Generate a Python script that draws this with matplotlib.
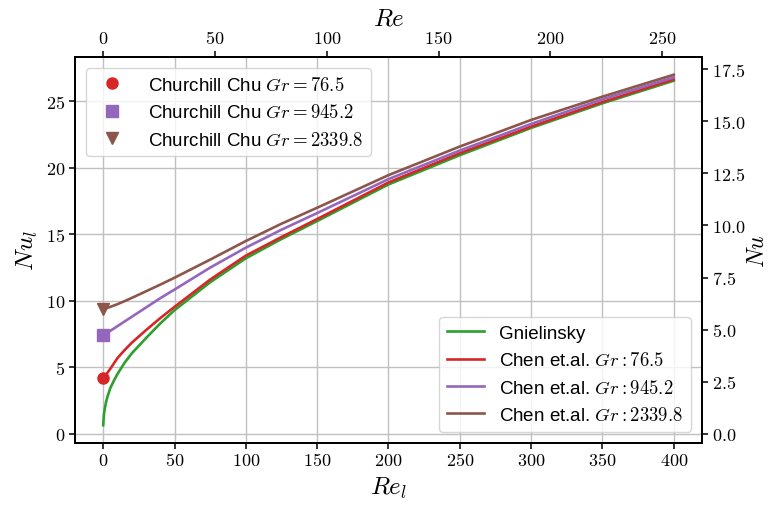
import numpy as np
import matplotlib.pyplot as plt
from matplotlib.ticker import FuncFormatter

plt.rcParams['font.family'] = ['Liberation Sans', 'DejaVu Sans']
plt.rcParams['mathtext.fontset'] = 'cm'

# Reynolds number based on l, and the Nusselt curves read at those points
re_l = [0, 0.5, 1, 2, 3, 5, 7.5, 10, 15, 20, 30, 40, 50, 75, 100, 125, 150,
        200, 250, 300, 350, 400]
nu_gnielinsky = [0.65, 1.45, 1.85, 2.4, 2.8, 3.45, 4.0, 4.5, 5.35, 6.05, 7.2,
                 8.3, 9.3, 11.4, 13.2, 14.65, 16.0, 18.75, 20.95, 23.0, 24.85,
                 26.55]
nu_chen_76 = [4.2, 4.25, 4.3, 4.45, 4.6, 4.9, 5.3, 5.7, 6.3, 6.85, 7.8, 8.7,
              9.55, 11.6, 13.4, 14.8, 16.15, 18.9, 21.1, 23.1, 24.95, 26.65]
nu_chen_945 = [7.45, 7.48, 7.51, 7.57, 7.63, 7.75, 7.92, 8.1, 8.45, 8.8, 9.5,
               10.2, 10.85, 12.5, 14.0, 15.35, 16.6, 19.15, 21.3, 23.3,
               25.15, 26.8]
nu_chen_2339 = [9.4, 9.41, 9.42, 9.45, 9.48, 9.55, 9.65, 9.75, 9.98, 10.22,
                10.72, 11.22, 11.74, 13.1, 14.5, 15.8, 17.0, 19.45, 21.6, 23.6,
                25.35, 27.0]

# Churchill-Chu natural convection values (Re = 0)
gr_values = ['76.5', '945.2', '2339.8']
nu_churchill = [4.2, 7.45, 9.4]
markers = ['o', 's', 'v']
colors = ['tab:red', 'tab:purple', 'tab:brown']

# conversion between l-based and d-based quantities
scale = 0.638

fig, ax = plt.subplots(figsize=(7.7, 5.06), dpi=100)
fig.subplots_adjust(left=0.097, right=0.912, top=0.885, bottom=0.123)

lw = 1.9
l1, = ax.plot(re_l, nu_gnielinsky, color='tab:green', lw=lw, label='Gnielinsky')
l2, = ax.plot(re_l, nu_chen_76, color='tab:red', lw=lw,
              label=r'Chen et.al. $Gr:76.5$')
l3, = ax.plot(re_l, nu_chen_945, color='tab:purple', lw=lw,
              label=r'Chen et.al. $Gr:945.2$')
l4, = ax.plot(re_l, nu_chen_2339, color='tab:brown', lw=lw,
              label=r'Chen et.al. $Gr:2339.8$')

pts = []
for nu, gr, m, c in zip(nu_churchill, gr_values, markers, colors):
    p, = ax.plot([0], [nu], m, color=c, ms=8, ls='none',
                 label=r'Churchill Chu $Gr=' + gr + '$')
    pts.append(p)

ax.grid(True, color='#c0c0c0', lw=1.0)
ax.set_xticks(np.arange(0, 401, 50))
ax.set_yticks(np.arange(0, 26, 5))

fmt_int = FuncFormatter(lambda v, p: r'$%g$' % v)
fmt_dec = FuncFormatter(lambda v, p: r'$%.1f$' % v)
ax.xaxis.set_major_formatter(fmt_int)
ax.yaxis.set_major_formatter(fmt_int)

ax.set_xlabel(r'$Re_l$', fontsize=18)
ax.set_ylabel(r'$Nu_l$', fontsize=18)

leg1 = ax.legend(handles=pts, loc='upper left', fontsize=13.5,
                 handletextpad=0.9, borderaxespad=0.6)
ax.add_artist(leg1)
ax.legend(handles=[l1, l2, l3, l4], loc='lower right', fontsize=13.5,
          borderaxespad=0.6)

# secondary axes: Re on top, Nu on the right
axt = ax.twiny()
x0, x1 = ax.get_xlim()
axt.set_xlim(x0 * scale, x1 * scale)
axt.set_xticks(np.arange(0, 251, 50))
axt.xaxis.set_major_formatter(fmt_int)
axt.set_xlabel(r'$Re$', fontsize=18)

axr = ax.twinx()
y0, y1 = ax.get_ylim()
axr.set_ylim(y0 * scale, y1 * scale)
axr.set_yticks(np.arange(0, 17.6, 2.5))
axr.yaxis.set_major_formatter(fmt_dec)
axr.set_ylabel(r'$Nu$', fontsize=17, labelpad=1)

for a in (ax, axt, axr):
    a.tick_params(labelsize=13, width=1.1, length=4.5, pad=2.5)
    for s in a.spines.values():
        s.set_linewidth(1.3)

fig.savefig('out.png', dpi=100)
